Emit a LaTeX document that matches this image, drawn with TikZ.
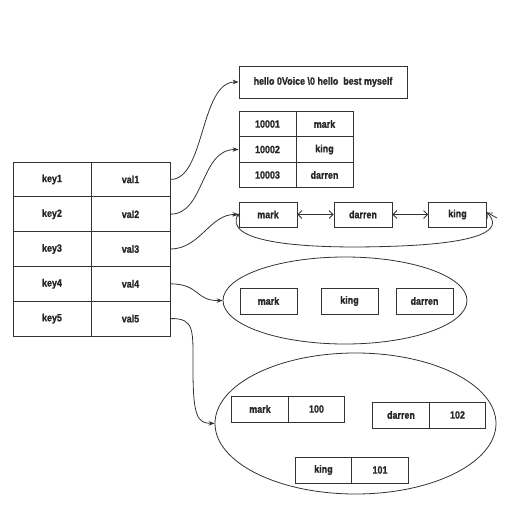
\documentclass[tikz,border=0pt]{standalone}
\usepackage{fontspec}
\setmainfont{Liberation Sans}[FakeStretch=0.85, BoldFeatures={FakeBold=1.2}]
\usetikzlibrary{arrows.meta,shapes.geometric}
\begin{document}
\begin{tikzpicture}[x=1pt,y=-1pt,
  every node/.style={font=\bfseries\fontsize{10.5}{12}\selectfont, text=black!85},
  cell/.style={draw=black!80, line width=0.8pt, inner sep=0pt, anchor=center},
  kcell/.style={cell, minimum width=78pt, minimum height=34.8pt},
  vcell/.style={cell, minimum width=79pt, minimum height=34.8pt},
  tcell/.style={cell, minimum width=57pt, minimum height=25.6pt},
  lcell/.style={cell, minimum width=58pt, minimum height=25pt},
  pcell/.style={cell, minimum width=56.5pt, minimum height=26pt},
  scell/.style={cell, minimum width=57pt, minimum height=26pt},
  conn/.style={draw=black!80, line width=0.8pt, -{Stealth[length=6pt,width=4.5pt]}},
  dbl/.style={draw=black!80, line width=0.8pt, {Straight Barb[length=4pt,width=8pt]}-{Straight Barb[length=4pt,width=8pt]}},
  ell/.style={draw=black!80, line width=0.8pt, ellipse, inner sep=0pt}
]
\useasboundingbox (0,0) rectangle (519,506);
% left table
\foreach \i/\y in {1/179.4,2/214.2,3/249,4/283.8,5/318.6}{
  \node[kcell] (k\i) at (52,\y) {key\i};
  \node[vcell] (v\i) at (130.5,\y) {val\i};
}
% string box
\node[cell, minimum width=168pt, minimum height=32pt] (str) at (323,82) {hello 0Voice \textbackslash0 hello\ \ best myself};
% hash table
\node[tcell] (h1a) at (267.5,124) {10001};
\node[tcell] (h1b) at (324.5,124) {mark};
\node[tcell] (h2a) at (267.5,149.5) {10002};
\node[tcell] (h2b) at (324.5,149.5) {king};
\node[tcell] (h3a) at (267.5,175) {10003};
\node[tcell] (h3b) at (324.5,175) {darren};
% linked list
\node[lcell] (l1) at (268,214.5) {mark};
\node[lcell] (l2) at (363,214.5) {darren};
\node[lcell] (l3) at (457.5,214.5) {king};
\draw[dbl] (l1) -- (l2);
\draw[dbl] (l2) -- (l3);
\coordinate (stub) at (497,218);
\draw[draw=black!80, line width=0.8pt] ([yshift=2pt]l3.east) -- (stub);
\draw[dbl] ([yshift=2pt]l3.east) .. controls (500,226) and (495,242) .. (400,246)
   .. controls (300,250) and (222,242) .. ([yshift=1pt]l1.west);
% set ellipse
\node[ell, minimum width=244pt, minimum height=87pt] (set) at (345,300.5) {};
\node[scell] (s1) at (268.5,301) {mark};
\node[scell] (s2) at (349.5,301) {king};
\node[scell] (s3) at (424.5,301) {darren};
% zset ellipse
\node[ell, minimum width=281pt, minimum height=141pt] (zset) at (355.5,423.5) {};
\node[pcell] (z1a) at (260,409) {mark};
\node[pcell] (z1b) at (316.5,409) {100};
\node[pcell] (z2a) at (401,415) {darren};
\node[pcell] (z2b) at (457.5,415) {102};
\node[pcell] (z3a) at (323.5,470) {king};
\node[pcell] (z3b) at (380,470) {101};
% connectors
\draw[conn] (v1.east) .. controls (205,180) and (200,82) .. (str.west);
\draw[conn] (v2.east) .. controls (205,214) and (200,149.5) .. (h2a.west);
\draw[conn] (v3.east) .. controls (200,249) and (210,214) .. (l1.west);
\draw[conn] (v4.east) .. controls (200,284) and (195,301) .. (set.west);
\draw[conn] (v5.east) .. controls (195,318) and (193,330) .. (193,370)
   .. controls (193,418) and (198,423) .. (zset.west);
\end{tikzpicture}
\end{document}
